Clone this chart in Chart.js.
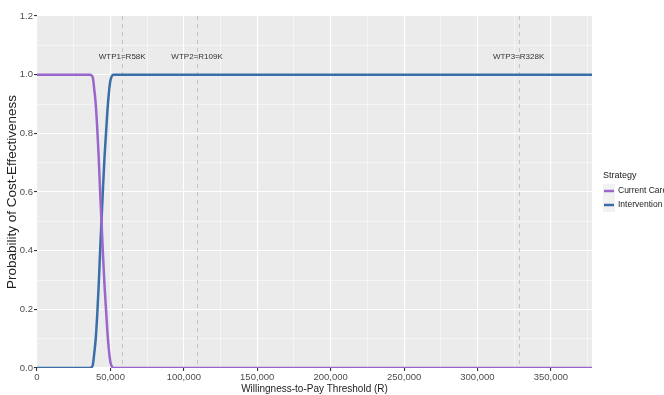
<!DOCTYPE html>
<html>
<head>
<meta charset="utf-8">
<script src="https://cdn.jsdelivr.net/npm/chart.js@4"></script>
<style>
  html, body { margin: 0; padding: 0; background: #fff; }
  #wrap { width: 664px; height: 395px; }
</style>
</head>
<body>
<div id="wrap"><canvas id="ceac" width="664" height="395"></canvas></div>
<script>
// willingness-to-pay thresholds (R)
const wtp = [0, 10000, 20000, 30000, 36000, 37000, 38000, 39000, 40000, 41000, 42000, 43000, 44000,
  45000, 46000, 47000, 48000, 49000, 50000, 51000, 52000, 53000, 55000, 60000, 100000, 200000, 300000, 378000];
const currentCare = [1, 1, 1, 1, 1, 0.998, 0.99, 0.95, 0.9, 0.82, 0.72, 0.6, 0.49,
  0.38, 0.28, 0.2, 0.12, 0.06, 0.02, 0.005, 0, 0, 0, 0, 0, 0, 0, 0];
const intervention = [0, 0, 0, 0, 0, 0.002, 0.01, 0.05, 0.1, 0.18, 0.28, 0.4, 0.51,
  0.62, 0.72, 0.8, 0.88, 0.94, 0.98, 0.995, 1, 1, 1, 1, 1, 1, 1, 1];
const thresholds = [58000, 109000, 328000];
const thresholdLabels = ['WTP1=R58K', 'WTP2=R109K', 'WTP3=R328K'];

const FONT = 'Liberation Sans, Arial, sans-serif';

const toPoints = (ys) => wtp.map((x, i) => ({ x: x, y: ys[i] }));
const fmt = (v) => String(Math.round(v)).replace(/\B(?=(\d{3})+(?!\d))/g, ',');
const isMajorX = (v) => Math.round(v) % 50000 === 0;
const isMajorY = (v) => Math.round(v * 10) % 2 === 0;

const panelBg = {
  id: 'panelBg',
  beforeDraw(chart) {
    const { ctx, chartArea: a } = chart;
    ctx.save();
    ctx.fillStyle = '#EBEBEB';
    ctx.fillRect(a.left, a.top, a.right - a.left, a.bottom - a.top);
    ctx.restore();
  }
};

const extras = {
  id: 'extras',
  beforeDatasetsDraw(chart) {
    const { ctx, chartArea: a, scales } = chart;
    ctx.save();
    ctx.strokeStyle = '#C4C4C4';
    ctx.lineWidth = 1;
    ctx.setLineDash([4, 4]);
    thresholds.forEach((t) => {
      const px = Math.round(scales.x.getPixelForValue(t)) + 0.5;
      ctx.beginPath();
      ctx.moveTo(px, a.top);
      ctx.lineTo(px, a.bottom);
      ctx.stroke();
    });
    ctx.setLineDash([]);
    ctx.fillStyle = '#333';
    ctx.font = '8px ' + FONT;
    ctx.textAlign = 'center';
    ctx.textBaseline = 'middle';
    thresholds.forEach((t, i) => {
      ctx.fillText(thresholdLabels[i], scales.x.getPixelForValue(t), scales.y.getPixelForValue(1.06));
    });
    ctx.restore();
  },
  afterDraw(chart) {
    const { ctx } = chart;
    ctx.save();
    ctx.textBaseline = 'middle';
    ctx.textAlign = 'left';
    ctx.fillStyle = '#222';
    ctx.font = '9px ' + FONT;
    ctx.fillText('Strategy', 603, 176);
    const items = [['Current Care', '#9966CC', 191], ['Intervention', '#3B6EA8', 205]];
    ctx.font = '8.5px ' + FONT;
    items.forEach(([label, col, y]) => {
      ctx.fillStyle = '#F2F2F2';
      ctx.fillRect(603, y - 7, 12, 14);
      ctx.strokeStyle = col;
      ctx.lineWidth = 2.5;
      ctx.beginPath();
      ctx.moveTo(604, y);
      ctx.lineTo(614, y);
      ctx.stroke();
      ctx.fillStyle = '#222';
      ctx.fillText(label, 618, y);
    });
    ctx.restore();
  }
};

new Chart(document.getElementById('ceac'), {
  type: 'line',
  data: {
    datasets: [
      { label: 'Current Care', data: toPoints(currentCare), borderColor: '#9966CC', borderWidth: 2.5,
        pointRadius: 0, tension: 0.3, cubicInterpolationMode: 'monotone' },
      { label: 'Intervention', data: toPoints(intervention), borderColor: '#3B6EA8', borderWidth: 2.5,
        pointRadius: 0, tension: 0.3, cubicInterpolationMode: 'monotone' }
    ]
  },
  options: {
    responsive: false,
    animation: false,
    layout: { padding: { top: 16, right: 72, left: 0, bottom: 0 } },
    plugins: { legend: { display: false }, tooltip: { enabled: false } },
    scales: {
      x: {
        type: 'linear', min: 0, max: 378000,
        border: { display: false },
        afterFit: (s) => { s.height = 27; },
        afterBuildTicks: (s) => {
          const t = [];
          for (let v = 0; v <= 375000; v += 25000) t.push({ value: v });
          s.ticks = t;
        },
        ticks: {
          autoSkip: false, maxRotation: 0, minRotation: 0, padding: 1,
          color: '#4D4D4D', font: { family: FONT, size: 9.5 },
          callback: (v) => (isMajorX(v) ? fmt(v) : '')
        },
        grid: {
          color: '#FFFFFF', tickLength: 3,
          lineWidth: (c) => (c.tick && isMajorX(c.tick.value) ? 1.1 : 0.5),
          tickColor: (c) => (c.tick && isMajorX(c.tick.value) ? '#333' : 'rgba(0,0,0,0)')
        },
        title: { display: true, text: 'Willingness-to-Pay Threshold (R)', color: '#222',
          font: { family: FONT, size: 10 }, padding: { top: 1, bottom: 0 } }
      },
      y: {
        min: 0, max: 1.2,
        border: { display: false },
        afterFit: (s) => { s.width = 37; },
        ticks: {
          stepSize: 0.1, autoSkip: false, padding: 1,
          color: '#4D4D4D', font: { family: FONT, size: 9.5 },
          callback: (v) => (isMajorY(v) ? v.toFixed(1) : '')
        },
        grid: {
          color: '#FFFFFF', tickLength: 3,
          lineWidth: (c) => (c.tick && isMajorY(c.tick.value) ? 1.1 : 0.5),
          tickColor: (c) => (c.tick && isMajorY(c.tick.value) ? '#333' : 'rgba(0,0,0,0)')
        },
        title: { display: true, text: 'Probability of Cost-Effectiveness', color: '#222',
          font: { family: FONT, size: 13.5 }, padding: { top: 4, bottom: 0 } }
      }
    }
  },
  plugins: [panelBg, extras]
});
</script>
</body>
</html>
